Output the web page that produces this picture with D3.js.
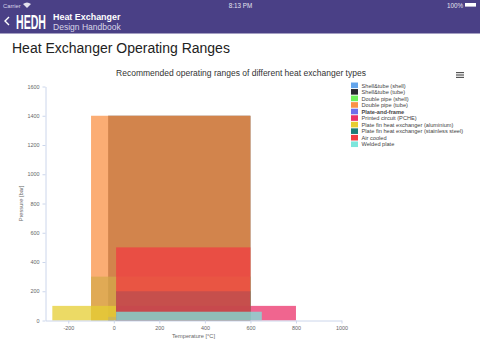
<!DOCTYPE html>
<html>
<head>
<meta charset="utf-8">
<script src="https://cdnjs.cloudflare.com/ajax/libs/d3/7.8.5/d3.min.js"></script>
<style>
  html, body { margin: 0; padding: 0; background: #fff; }
  svg { display: block; font-family: "Liberation Sans", Arial, sans-serif; }
</style>
</head>
<body>
<svg id="chart" width="480" height="360"></svg>
<script>
// series drawn back to front, each one is a temperature / pressure range
const seriesNames = ["Shell&tube (shell)", "Shell&tube (tube)", "Double pipe (shell)", "Double pipe (tube)", "Plate-and-frame", "Printed circuit (PCHE)", "Plate fin heat exchanger (aluminium)", "Plate fin heat exchanger (stainless steel)", "Air cooled", "Welded plate"];
const seriesColors = ["#64a5eb", "#28282d", "#6ef05a", "#fa9146", "#6e6eeb", "#eb3269", "#e6cd32", "#197d78", "#f03c41", "#7de6dc"];
const tempMin = [-25, -25, -100, -100, -25, 10, -270, 10, 10, 10];
const tempMax = [600, 600, 600, 600, 200, 800, 10, 600, 600, 650];
const pressMax = [300, 1400, 300, 1400, 25, 100, 100, 200, 500, 60];
const xTicks = [-200, 0, 200, 400, 600, 800, 1000];
const yTicks = [0, 200, 400, 600, 800, 1000, 1200, 1400, 1600];

const svg = d3.select("#chart");

const x = d3.scaleLinear().domain([-300, 1000]).range([45.5, 341.5]);
const y = d3.scaleLinear().domain([0, 1600]).range([320.5, 86.5]);

// app header
svg.append("rect").attr("width", 480).attr("height", 33.5).attr("fill", "#4a4086");
svg.append("text").attr("x", 3).attr("y", 7.5).attr("font-size", 5.8).attr("fill", "#d8d5e8").text("Carrier");
svg.append("path").attr("d", "M23,4 Q27,1 31,4 L27,8 Z").attr("fill", "#e4e2ee");
svg.append("text").attr("x", 240.5).attr("y", 7.5).attr("font-size", 6.3).attr("text-anchor", "middle").attr("fill", "#e4e2ee").text("8:13 PM");
svg.append("text").attr("x", 463).attr("y", 7.5).attr("font-size", 6.3).attr("text-anchor", "end").attr("fill", "#e4e2ee").text("100%");
svg.append("rect").attr("x", 465).attr("y", 3).attr("width", 11).attr("height", 3.6).attr("fill", "#fff");
svg.append("path").attr("d", "M9,17 L5,21 L9,25").attr("fill", "none").attr("stroke", "#fff").attr("stroke-width", 1.4);
svg.append("text").attr("transform", "translate(16,29) scale(0.53,1)").attr("font-size", 20).attr("font-weight", "bold").attr("fill", "#fff").text("HEDH");
svg.append("text").attr("transform", "translate(53,20) scale(1.09,1)").attr("font-size", 8.2).attr("font-weight", "bold").attr("fill", "#fff").text("Heat Exchanger");
svg.append("text").attr("transform", "translate(53,30) scale(1.04,1)").attr("font-size", 8.2).attr("fill", "#d8d5e8").text("Design Handbook");

svg.append("text").attr("x", 12).attr("y", 52.5).attr("font-size", 14).attr("fill", "#222").text("Heat Exchanger Operating Ranges");
svg.append("text").attr("x", 241).attr("y", 76).attr("font-size", 8.5).attr("text-anchor", "middle").attr("fill", "#333").text("Recommended operating ranges of different heat exchanger types");

// menu button
svg.append("g").selectAll("rect").data([0, 1, 2]).enter().append("rect")
  .attr("x", 456).attr("y", d => 72 + d * 2.4).attr("width", 8).attr("height", 1.2).attr("fill", "#555");

// ranges
svg.append("g").selectAll("rect")
  .data(d3.range(seriesNames.length))
  .enter()
  .append("rect")
  .attr("x", i => x(tempMin[i]))
  .attr("y", i => y(pressMax[i]))
  .attr("width", i => x(tempMax[i]) - x(tempMin[i]))
  .attr("height", i => y(0) - y(pressMax[i]))
  .attr("fill", i => seriesColors[i])
  .attr("fill-opacity", 0.75);

// axes
const tickText = d => String(d);
const xAxis = svg.append("g").attr("transform", `translate(0,${y(0)})`)
  .call(d3.axisBottom(x).tickValues(xTicks).tickFormat(tickText).tickSize(3).tickSizeOuter(0).tickPadding(3));
const yAxis = svg.append("g").attr("transform", `translate(${x(-300)},0)`)
  .call(d3.axisLeft(y).tickValues(yTicks).tickFormat(tickText).tickSize(3).tickSizeOuter(0).tickPadding(3));
[xAxis, yAxis].forEach(a => {
  a.selectAll("path, line").attr("stroke", "#ccd6eb");
  a.selectAll("text").attr("fill", "#666").attr("font-size", 5.4).attr("font-family", "Liberation Sans");
});

svg.append("text").attr("x", 193.5).attr("y", 338).attr("font-size", 5.7).attr("text-anchor", "middle").attr("fill", "#666").text("Temperature [°C]");
svg.append("text").attr("transform", "translate(22.5,203.5) rotate(-90)").attr("font-size", 5.7).attr("text-anchor", "middle").attr("fill", "#666").text("Pressure [bar]");

// legend
const legend = svg.append("g").selectAll("g")
  .data(seriesNames)
  .enter()
  .append("g")
  .attr("transform", (d, i) => `translate(351,${82.5 + i * 6.55})`);
legend.append("rect").attr("width", 7).attr("height", 5.6)
  .attr("fill", (d, i) => seriesColors[i]);
legend.append("text").attr("x", 10.5).attr("y", 5).attr("font-size", 5.65).attr("fill", "#444")
  .attr("font-weight", d => d === "Plate-and-frame" ? "bold" : "normal")
  .text(d => d);
</script>
</body>
</html>
